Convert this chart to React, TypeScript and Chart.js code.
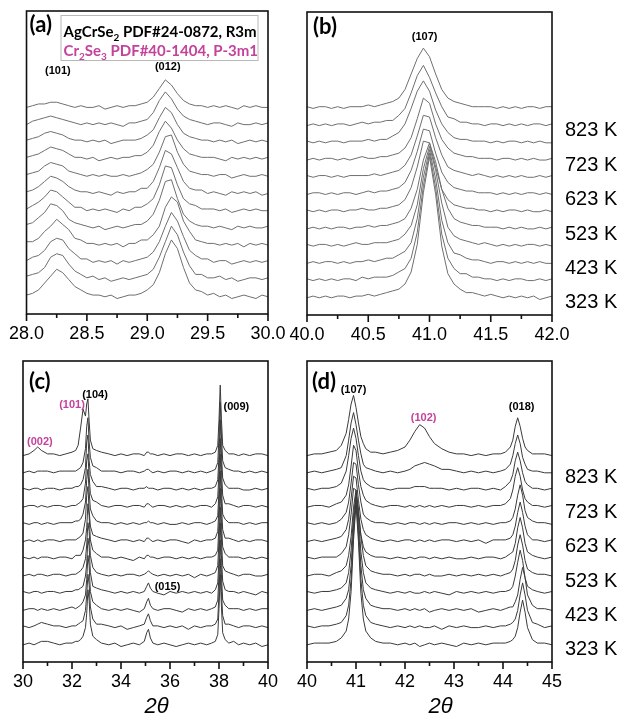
import React, { useEffect, useRef } from 'react';
import { Chart, registerables } from 'chart.js';

Chart.register(...registerables);

// ---------- x grids (2θ, degrees) ----------
const xA = [28, 28.05, 28.1, 28.15, 28.2, 28.25, 28.3, 28.35, 28.4, 28.45, 28.5, 28.55, 28.6, 28.65, 28.7, 28.75, 28.8, 28.85, 28.9, 28.95, 29, 29.05, 29.1, 29.15, 29.2, 29.25, 29.3, 29.35, 29.4, 29.45, 29.5, 29.55, 29.6, 29.65, 29.7, 29.75, 29.8, 29.85, 29.9, 29.95, 30];
const xB = [40, 40.05, 40.1, 40.15, 40.2, 40.25, 40.3, 40.35, 40.4, 40.45, 40.5, 40.55, 40.6, 40.65, 40.7, 40.75, 40.8, 40.85, 40.9, 40.95, 41, 41.05, 41.1, 41.15, 41.2, 41.25, 41.3, 41.35, 41.4, 41.45, 41.5, 41.55, 41.6, 41.65, 41.7, 41.75, 41.8, 41.85, 41.9, 41.95, 42];
const xC = [30, 30.25, 30.45, 30.6, 30.75, 31, 31.25, 31.5, 31.75, 32, 32.15, 32.25, 32.35, 32.45, 32.55, 32.6, 32.65, 32.7, 32.75, 32.85, 33, 33.2, 33.5, 33.75, 34, 34.25, 34.5, 34.75, 34.95, 35.05, 35.12, 35.2, 35.3, 35.5, 35.75, 36, 36.25, 36.5, 36.75, 37, 37.25, 37.5, 37.7, 37.85, 37.95, 38, 38.05, 38.1, 38.15, 38.25, 38.4, 38.6, 38.8, 39, 39.25, 39.5, 39.75, 40];
const xD = [40, 40.15, 40.3, 40.45, 40.6, 40.7, 40.8, 40.85, 40.9, 40.95, 41, 41.05, 41.1, 41.15, 41.2, 41.3, 41.4, 41.55, 41.7, 41.85, 42, 42.1, 42.2, 42.3, 42.4, 42.5, 42.6, 42.75, 42.9, 43.05, 43.2, 43.35, 43.5, 43.65, 43.8, 43.95, 44.05, 44.15, 44.2, 44.25, 44.3, 44.35, 44.4, 44.45, 44.5, 44.6, 44.7, 44.85, 45];

// ---------- trace names (bottom to top) ----------
const traceTemps = ['323 K', '373 K', '423 K', '473 K', '523 K', '573 K', '623 K', '673 K', '723 K', '773 K', '823 K', '873 K'];
const tempLabels = ['323 K', '423 K', '523 K', '623 K', '723 K', '823 K'];
const tempTraceIdx = [0, 2, 4, 6, 8, 10];

// ---------- panel (a): 28–30° intensities (a.u., before stacking) ----------
const a323 = [1, 2, 4, 8, 12, 16, 14, 10, 6, 4, 2, 1, 1, 0, 1, -1, 0, 1, 1, 2, 4, 7, 14, 25, 33, 28, 17, 8, 4, 3, 1, 2, 0, 1, -1, 0, 1, 0, -1, 1, 0];
const a373 = [2, 3, 4, 7, 13, 15, 14, 9, 5, 3, 1, 2, 0, 1, -1, 0, 1, 0, 1, 2, 3, 6, 13, 22, 31, 26, 16, 8, 3, 3, 1, 1, 2, 0, 1, -1, 0, 1, 1, 0, 1];
const a423 = [1, 3, 4, 7, 12, 14, 13, 8, 5, 2, 2, 0, 1, 0, 1, -1, 1, 0, 1, 2, 3, 6, 12, 21, 29, 24, 15, 7, 4, 2, 2, 0, 1, 1, -1, 0, 1, 0, 1, 0, 1];
const a473 = [2, 2, 4, 8, 11, 15, 12, 9, 4, 3, 1, 1, 0, 1, 0, 1, -1, 1, 1, 3, 3, 6, 11, 22, 28, 25, 14, 8, 3, 2, 1, 1, 0, 1, 0, 1, -1, 1, 0, 1, 0];
const a523 = [2, 3, 6, 9, 14, 13, 10, 5, 3, 2, 1, 0, 1, -1, 0, 1, 0, 1, 2, 2, 4, 8, 16, 27, 28, 17, 8, 4, 2, 1, 1, 0, 1, 0, -1, 1, 0, 1, 0, 0, 1];
const a573 = [1, 3, 5, 8, 12, 11, 8, 5, 2, 2, 0, 1, 0, 1, 0, -1, 1, 0, 2, 2, 4, 7, 15, 26, 25, 15, 7, 4, 3, 1, 1, 1, 0, 1, -1, 0, 1, 0, 1, 0, 0];
const a623 = [1, 2, 4, 7, 10, 9, 7, 4, 2, 1, 1, 0, 1, 0, -1, 1, 0, 1, 1, 3, 3, 7, 15, 25, 23, 15, 7, 3, 2, 2, 0, 1, 0, -1, 1, 0, 1, 0, 1, -1, 0];
const a673 = [1, 2, 3, 6, 8, 7, 6, 3, 2, 1, 0, 1, 0, 1, 0, 0, 1, 0, 1, 2, 4, 7, 14, 23, 24, 14, 7, 3, 2, 1, 1, 0, 1, 1, -1, 0, 1, 0, 0, 1, 0];
const a723 = [1, 2, 3, 5, 7, 6, 5, 3, 1, 1, 0, 1, -1, 0, 1, 0, 1, 1, 2, 2, 4, 8, 16, 22, 18, 11, 6, 3, 2, 1, 1, 1, 0, -1, 1, 0, 1, 0, 1, 0, 1];
const a773 = [1, 2, 3, 5, 6, 5, 4, 2, 1, 1, 0, 1, 0, 1, -1, 0, 1, 1, 1, 2, 4, 7, 14, 20, 17, 10, 5, 3, 2, 1, 1, 0, 1, 0, 1, -1, 0, 1, 0, 1, 0];
const a823 = [0, 2, 3, 4, 5, 4, 3, 2, 1, 0, 1, 0, 1, 0, 1, 0, -1, 1, 1, 2, 3, 7, 14, 19, 15, 9, 5, 3, 2, 1, 0, 1, 1, 0, -1, 1, 0, 0, 1, 0, 1];
const a873 = [0, 1, 2, 2, 3, 3, 2, 1, 0, 1, 0, 0, 1, -1, 0, 1, 0, 1, 1, 2, 3, 6, 11, 16, 13, 8, 4, 2, 1, 1, 0, 1, 0, 1, 0, -1, 1, 0, 1, 0, 0];

// ---------- panel (b): 40–42° ----------
const b323 = [0, 1, 0, 1, 0, 1, 1, 0, 1, 1, 2, 1, 2, 3, 4, 5, 8, 15, 31, 61, 82, 60, 30, 14, 8, 5, 3, 3, 2, 1, 2, 1, 0, 1, 0, 1, 0, 1, -1, 0, 1];
const b373 = [1, 0, 1, 0, 1, 0, 1, 1, 0, 2, 1, 2, 2, 2, 3, 5, 7, 13, 28, 55, 74, 54, 27, 13, 7, 4, 4, 2, 2, 1, 1, 0, 1, 0, 1, 1, 0, 0, 1, 0, 1];
const b423 = [0, 1, 0, 1, 1, 0, 1, 0, 1, 1, 2, 1, 2, 3, 3, 5, 7, 12, 26, 50, 66, 49, 25, 12, 6, 5, 3, 2, 2, 1, 0, 1, 1, 0, 1, 0, 1, 0, 1, 0, 0];
const b473 = [1, 0, 1, 1, 0, 1, 0, 1, 2, 1, 1, 2, 2, 2, 3, 4, 7, 12, 24, 45, 58, 44, 25, 11, 6, 4, 3, 2, 1, 2, 1, 0, 1, 0, 1, 0, 1, 1, 0, 1, 0];
const b523 = [0, 1, 0, 1, 0, 1, 1, 0, 1, 1, 2, 1, 2, 2, 3, 4, 6, 12, 23, 40, 50, 39, 23, 12, 6, 4, 3, 2, 2, 1, 1, 1, 0, 1, 0, 1, 0, 0, 1, 0, 1];
const b573 = [1, 0, 1, 0, 1, 1, 0, 1, 1, 2, 1, 1, 2, 2, 3, 4, 7, 14, 26, 41, 40, 26, 13, 7, 4, 3, 2, 2, 1, 1, 0, 1, 0, 1, 1, 0, 1, 0, 0, 1, 0];
const b623 = [0, 1, 1, 0, 1, 0, 1, 1, 0, 1, 2, 1, 2, 2, 3, 4, 7, 14, 25, 38, 37, 24, 13, 7, 4, 3, 2, 2, 1, 1, 1, 0, 1, 0, 1, 0, 1, 1, 0, 1, 0];
const b673 = [1, 0, 1, 1, 0, 1, 0, 1, 1, 1, 1, 2, 1, 2, 3, 4, 7, 13, 24, 36, 35, 23, 13, 6, 4, 3, 2, 1, 2, 1, 0, 1, 0, 1, 0, 1, 0, 0, 1, 0, 1];
const b723 = [0, 1, 0, 1, 1, 0, 1, 0, 1, 2, 1, 1, 2, 2, 3, 4, 7, 13, 24, 36, 33, 21, 12, 7, 4, 3, 2, 2, 1, 1, 1, 0, 1, 1, 0, 1, 0, 1, 0, 0, 1];
const b773 = [1, 0, 1, 0, 1, 1, 0, 1, 1, 1, 2, 1, 2, 2, 4, 6, 11, 20, 30, 36, 30, 19, 11, 6, 3, 2, 2, 1, 1, 1, 0, 1, 0, 1, 1, 0, 1, 0, 1, 0, 0];
const b823 = [0, 1, 0, 1, 0, 1, 1, 0, 1, 2, 1, 2, 2, 3, 3, 6, 10, 19, 29, 35, 28, 19, 11, 5, 4, 2, 2, 1, 1, 0, 1, 1, 0, 1, 0, 1, 0, 1, 1, 0, 1];
const b873 = [1, 0, 1, 1, 0, 1, 0, 1, 1, 1, 2, 1, 2, 3, 4, 6, 11, 20, 29, 35, 30, 20, 11, 6, 4, 3, 2, 1, 1, 1, 1, 0, 1, 0, 1, 0, 1, 1, 0, 1, 1];

// ---------- panel (c): 30–40° ----------
const c323 = [0, 1, 0, 1, 2, 2, 1, 0, 1, 1, 2, 2, 3, 5, 10, 18, 32, 26, 12, 5, 3, 1, 0, 1, -1, 0, 1, 0, 2, 7, 9, 4, 1, 0, 1, 0, -1, 0, 1, 0, 1, 0, 1, 2, 6, 21, 41, 22, 7, 3, 1, 2, 0, 1, 0, 1, -1, 0];
const c373 = [1, 0, 1, 2, 3, 2, 1, 1, 0, 1, 1, 2, 3, 4, 10, 19, 31, 25, 12, 5, 2, 2, 1, 0, 1, -1, 0, 1, 2, 6, 8, 4, 1, 1, 0, 1, 0, 1, -1, 1, 0, 1, 1, 2, 5, 20, 40, 21, 7, 2, 2, 1, 0, 1, 1, 0, 1, 0];
const c423 = [0, 1, 1, 0, 1, 0, 1, 0, 1, 2, 1, 2, 3, 5, 9, 18, 32, 26, 11, 5, 3, 1, 0, 1, 0, 1, 0, -1, 1, 5, 7, 3, 1, 0, 1, 1, 0, -1, 1, 0, 1, 0, 1, 2, 6, 21, 41, 21, 6, 3, 1, 1, 1, 0, 1, 0, 1, 1];
const c473 = [1, 0, 1, 1, 0, 1, 1, 0, 1, 1, 2, 2, 3, 4, 10, 17, 32, 27, 12, 4, 3, 2, 1, 0, 1, 0, 1, 0, 1, 4, 6, 3, 1, 0, -1, 1, 0, 1, 0, 1, 0, 1, 0, 2, 6, 20, 41, 22, 7, 2, 1, 1, 0, 1, 0, -1, 1, 0];
const c523 = [0, 1, 0, 1, 1, 0, 1, 1, 0, 1, 1, 2, 3, 5, 10, 18, 31, 26, 12, 5, 2, 1, 0, 1, 0, 1, 1, 0, 1, 2, 3, 2, 1, 0, 1, 0, 1, 0, 1, -1, 1, 0, 1, 2, 6, 21, 40, 22, 6, 3, 2, 1, 0, 1, 1, 0, 0, 1];
const c573 = [1, 0, 1, 0, 1, 1, 0, 1, 1, 0, 2, 2, 2, 5, 11, 18, 32, 25, 11, 5, 3, 1, 1, 0, 1, 0, -1, 1, 0, 2, 2, 1, 1, 0, 1, 1, 0, 1, 0, 1, 0, 1, 1, 2, 5, 21, 41, 21, 7, 3, 1, 1, 1, 0, 1, 0, 1, 0];
const c623 = [0, 1, 0, 1, 0, 1, 1, 0, 1, 1, 1, 2, 3, 5, 13, 27, 32, 18, 9, 4, 3, 2, 1, 0, 1, 1, 0, 1, 0, 2, 2, 1, 0, 1, 0, 1, 1, 0, -1, 1, 0, 1, 1, 2, 6, 21, 41, 22, 7, 2, 2, 1, 0, 1, 0, 1, 1, 0];
const c673 = [1, 0, 1, 1, 0, 1, 0, 1, 1, 1, 2, 2, 3, 6, 13, 26, 32, 19, 9, 5, 2, 1, 1, 0, 1, 0, 1, 0, 1, 1, 2, 1, 1, 0, 1, 0, 0, 1, 0, 1, 1, 0, 1, 2, 5, 20, 41, 21, 6, 3, 1, 1, 1, 0, 1, 0, 1, 1];
const c723 = [0, 1, 1, 0, 1, 0, 1, 1, 0, 1, 1, 2, 3, 5, 14, 27, 31, 18, 8, 4, 3, 1, 0, 1, 1, 0, 1, 1, 0, 2, 2, 1, 0, 1, 1, 0, 1, 0, 1, 0, 1, 1, 0, 2, 6, 21, 40, 22, 7, 2, 2, 1, 0, 1, 1, 0, 1, 0];
const c773 = [1, 0, 1, 1, 0, 1, 1, 0, 1, 1, 2, 2, 3, 6, 13, 28, 32, 17, 9, 5, 2, 2, 1, 0, 1, 1, 0, 1, 1, 2, 1, 1, 1, 0, 1, 1, 0, 1, 0, 1, 0, 1, 1, 2, 6, 20, 41, 21, 7, 3, 1, 1, 1, 0, 0, 1, 0, 1];
const c823 = [0, 1, 0, 1, 1, 1, 0, 1, 1, 1, 1, 2, 3, 6, 14, 27, 32, 18, 9, 4, 3, 1, 1, 1, 0, 1, 1, 0, 1, 2, 2, 1, 0, 1, 0, 1, 1, 0, 1, 0, 1, 0, 1, 2, 6, 21, 41, 22, 7, 3, 2, 1, 1, 0, 1, 0, 1, 0];
const c873 = [0, 1, 3, 5, 3, 1, 1, 0, 1, 2, 3, 6, 16, 27, 23, 30, 33, 20, 9, 4, 3, 2, 1, 0, 1, 0, 1, 1, 0, 2, 2, 1, 1, 0, 1, 0, 1, 1, 0, 1, 0, 1, 1, 2, 6, 21, 41, 21, 6, 3, 1, 1, 0, 1, 0, 1, 1, 0];

// ---------- panel (d): 40–45° ----------
const d323 = [0, 1, 1, 1, 2, 4, 8, 15, 31, 61, 82, 60, 30, 15, 8, 4, 2, 1, 1, 0, 1, 0, 1, -1, 0, 1, 0, 1, 0, -1, 1, 0, 1, 0, 1, 1, 1, 2, 3, 5, 10, 19, 26, 19, 10, 3, 1, 1, 0];
const d373 = [1, 0, 1, 1, 2, 3, 7, 13, 28, 55, 74, 54, 28, 13, 7, 3, 2, 1, 0, 1, 0, 1, 0, 1, 0, 0, 1, -1, 1, 0, 1, 0, 0, 1, 0, 1, 1, 2, 3, 5, 10, 19, 26, 19, 10, 3, 2, 0, 1];
const d423 = [0, 1, 0, 1, 2, 3, 7, 12, 26, 50, 66, 49, 26, 12, 7, 3, 2, 1, 1, 0, 1, 0, 1, 0, 1, -1, 0, 1, 0, 1, 0, 1, -1, 0, 1, 0, 1, 2, 2, 5, 9, 18, 25, 19, 9, 3, 1, 1, 0];
const d473 = [1, 0, 1, 1, 2, 3, 6, 12, 25, 45, 58, 44, 24, 12, 6, 3, 2, 1, 0, 1, 0, 1, 0, 0, 1, 0, 1, 0, -1, 1, 0, 1, 0, 1, 0, 1, 1, 2, 4, 10, 18, 25, 19, 9, 4, 2, 1, 0, 1];
const d523 = [0, 1, 1, 0, 2, 3, 6, 12, 23, 40, 50, 39, 23, 12, 6, 3, 2, 1, 1, 0, 1, 0, 1, 1, 0, 1, 0, 0, 1, 0, 1, 0, 1, 0, 1, 0, 1, 2, 4, 9, 18, 24, 18, 9, 4, 2, 1, 1, 0];
const d573 = [1, 0, 1, 1, 1, 3, 7, 14, 26, 41, 40, 26, 14, 7, 4, 2, 1, 1, 0, 1, 0, 1, 0, 1, 1, 0, 1, 0, 1, 0, 0, 1, 0, 1, 1, 0, 1, 3, 4, 9, 18, 24, 18, 9, 4, 2, 1, 0, 1];
const d623 = [0, 1, 0, 1, 2, 3, 7, 13, 25, 38, 37, 24, 13, 7, 4, 2, 1, 0, 1, 0, 1, 1, 0, 1, 0, 1, 0, 1, 1, 0, 1, 0, 1, -1, 1, 1, 1, 2, 4, 9, 17, 23, 17, 9, 4, 1, 1, 0, 1];
const d673 = [1, 0, 1, 0, 1, 3, 7, 13, 24, 36, 35, 23, 13, 6, 4, 2, 1, 1, 0, 1, 0, 1, 1, 0, 1, 0, 1, 0, 1, 1, 0, 1, 0, 1, 0, 1, 1, 2, 4, 9, 17, 23, 17, 8, 4, 2, 1, 1, 0];
const d723 = [0, 1, 1, 0, 2, 3, 7, 13, 24, 36, 33, 21, 12, 7, 4, 2, 1, 0, 1, 1, 0, 1, 0, 1, 0, 1, 0, 1, 0, 1, 1, 0, 1, 0, 1, 1, 2, 5, 10, 18, 23, 18, 10, 5, 3, 1, 1, 0, 1];
const d773 = [1, 0, 1, 1, 2, 4, 11, 20, 30, 36, 30, 20, 11, 6, 4, 2, 1, 1, 0, 1, 1, 1, 2, 2, 2, 1, 1, 1, 0, 1, 0, 1, 1, 0, 1, 0, 2, 5, 9, 17, 22, 17, 10, 5, 3, 1, 1, 0, 1];
const d823 = [0, 1, 0, 1, 2, 3, 10, 19, 29, 35, 28, 19, 11, 5, 3, 2, 1, 0, 1, 0, 1, 2, 4, 5, 6, 5, 4, 2, 2, 1, 0, 1, 0, 1, 0, 1, 2, 5, 10, 17, 22, 17, 9, 5, 2, 1, 1, 0, 0];
const d873 = [0, 1, 1, 2, 3, 6, 13, 21, 30, 35, 28, 19, 11, 7, 4, 2, 2, 1, 2, 3, 5, 9, 14, 18, 16, 11, 7, 4, 2, 1, 1, 0, 1, 0, 1, 1, 2, 5, 9, 17, 22, 17, 10, 5, 3, 1, 1, 1, 0];

const tracesA = [a323, a373, a423, a473, a523, a573, a623, a673, a723, a773, a823, a873];
const tracesB = [b323, b373, b423, b473, b523, b573, b623, b673, b723, b773, b823, b873];
const tracesC = [c323, c373, c423, c473, c523, c573, c623, c673, c723, c773, c823, c873];
const tracesD = [d323, d373, d423, d473, d523, d573, d623, d673, d723, d773, d823, d873];

// ---------- reflection labels (data coords) ----------
const MAGENTA = '#c4429c';
const peaksA = [
  { text: '(101)', x: 28.26, y: 131, color: '#000' },
  { text: '(012)', x: 29.17, y: 133.5, color: '#000' },
];
const peaksB = [{ text: '(107)', x: 40.96, y: 151.5, color: '#000' }];
const peaksC = [
  { text: '(002)', x: 30.69, y: 118, color: MAGENTA },
  { text: '(101)', x: 32.0, y: 139.5, color: MAGENTA },
  { text: '(104)', x: 32.94, y: 145.2, color: '#000' },
  { text: '(009)', x: 38.71, y: 138.3, color: '#000' },
  { text: '(015)', x: 35.9, y: 33.6, color: '#000' },
];
const peaksD = [
  { text: '(107)', x: 40.95, y: 148, color: '#000' },
  { text: '(102)', x: 42.38, y: 132, color: MAGENTA },
  { text: '(018)', x: 44.38, y: 138.3, color: '#000' },
];

const STEP = 10;
const SANS = '"Liberation Sans", Arial, Helvetica, sans-serif';
const HUM = 'Lato, "Open Sans", sans-serif';

type Peak = { text: string; x: number; y: number; color: string };
type Panel = {
  left: number; top: number; w: number; h: number;
  pad: { left: number; right: number; top: number };
  axisH: number;
  x: number[]; traces: number[][];
  xMin: number; xMax: number; major: number; minor: number; decimals: number;
  yMin: number; yMax: number;
  color: string;
  letter: string; letterDx: number; letterDy: number;
  peaks: Peak[];
  temps: boolean; legend: boolean; axisTitle: boolean;
};

const panels: Panel[] = [
  {
    left: 0, top: 0, w: 300, h: 345, pad: { left: 24, right: 32, top: 11 }, axisH: 31,
    x: xA, traces: tracesA, xMin: 28, xMax: 30, major: 0.5, minor: 0.25, decimals: 1,
    yMin: -10, yMax: 166, color: '#6f6f6f', letter: '(a)', letterDx: 3, letterDy: 14,
    peaks: peaksA, temps: false, legend: true, axisTitle: false,
  },
  {
    left: 280, top: 0, w: 342, h: 345, pad: { left: 27, right: 70, top: 12 }, axisH: 30,
    x: xB, traces: tracesB, xMin: 40, xMax: 42, major: 0.5, minor: 0.25, decimals: 1,
    yMin: -10, yMax: 166, color: '#6f6f6f', letter: '(b)', letterDx: 6, letterDy: 15,
    peaks: peaksB, temps: true, legend: false, axisTitle: false,
  },
  {
    left: 0, top: 345, w: 300, h: 373, pad: { left: 23, right: 32, top: 16 }, axisH: 56,
    x: xC, traces: tracesC, xMin: 30, xMax: 40, major: 2, minor: 1, decimals: 0,
    yMin: -10, yMax: 165, color: '#3a3a3a', letter: '(c)', letterDx: 6, letterDy: 21,
    peaks: peaksC, temps: false, legend: false, axisTitle: true,
  },
  {
    left: 280, top: 345, w: 342, h: 373, pad: { left: 27, right: 70, top: 16 }, axisH: 56,
    x: xD, traces: tracesD, xMin: 40, xMax: 45, major: 1, minor: 0.5, decimals: 0,
    yMin: -10, yMax: 165, color: '#3a3a3a', letter: '(d)', letterDx: 5, letterDy: 21,
    peaks: peaksD, temps: true, legend: false, axisTitle: true,
  },
];

function drawParts(ctx: CanvasRenderingContext2D, parts: [string, boolean][], x: number, y: number, size: number, subSize: number) {
  let cx = x;
  for (const [t, sub] of parts) {
    ctx.font = `bold ${sub ? subSize : size}px ${HUM}`;
    ctx.fillText(t, cx, sub ? y + 4 : y);
    cx += ctx.measureText(t).width;
  }
}

function makeDeco(p: Panel) {
  return {
    id: 'panelDeco',
    afterDraw(chart: any) {
      const ctx: CanvasRenderingContext2D = chart.ctx;
      const { left, right, top, bottom } = chart.chartArea;
      const xs = chart.scales.x;
      const ys = chart.scales.y;
      ctx.save();
      // frame
      ctx.strokeStyle = '#111';
      ctx.lineWidth = 1.6;
      ctx.strokeRect(left, top, right - left, bottom - top);
      // ticks
      const n = Math.round((p.xMax - p.xMin) / p.minor);
      const ratio = Math.round(p.major / p.minor);
      ctx.beginPath();
      for (let k = 0; k <= n; k++) {
        const px = xs.getPixelForValue(p.xMin + k * p.minor);
        const len = k % ratio === 0 ? 7 : 4;
        ctx.moveTo(px, bottom);
        ctx.lineTo(px, bottom + len);
      }
      ctx.stroke();
      // panel letter
      ctx.fillStyle = '#000';
      ctx.textAlign = 'left';
      ctx.textBaseline = 'middle';
      ctx.font = `bold 22px ${HUM}`;
      ctx.fillText(p.letter, left + p.letterDx, top + p.letterDy);
      // reflection labels
      ctx.textAlign = 'center';
      ctx.font = `bold 11px ${SANS}`;
      for (const pk of p.peaks) {
        ctx.fillStyle = pk.color;
        ctx.fillText(pk.text, xs.getPixelForValue(pk.x), ys.getPixelForValue(pk.y));
      }
      // temperature labels
      if (p.temps) {
        ctx.fillStyle = '#000';
        ctx.textAlign = 'left';
        ctx.font = `20px ${SANS}`;
        tempLabels.forEach((t, k) => {
          ctx.fillText(t, right + 13, ys.getPixelForValue(tempTraceIdx[k] * STEP - 3));
        });
      }
      // axis title
      if (p.axisTitle) {
        ctx.fillStyle = '#000';
        ctx.textAlign = 'center';
        ctx.font = `italic 22px ${SANS}`;
        ctx.fillText('2θ', (left + right) / 2 + 11, bottom + 45);
      }
      // phase legend
      if (p.legend) {
        ctx.fillStyle = '#fff';
        ctx.fillRect(left + 34, top + 4, 197, 45);
        ctx.strokeStyle = '#b8b8b8';
        ctx.lineWidth = 1;
        ctx.strokeRect(left + 34.5, top + 4.5, 197, 45);
        ctx.textBaseline = 'alphabetic';
        ctx.textAlign = 'left';
        ctx.fillStyle = '#000';
        drawParts(ctx, [['AgCrSe', false], ['2', true], [' PDF#24-0872, R3m', false]], left + 37, top + 26, 15, 10);
        ctx.fillStyle = MAGENTA;
        drawParts(ctx, [['Cr', false], ['2', true], ['Se', false], ['3', true], [' PDF#40-1404, P-3m1', false]], left + 37, top + 45, 15, 10);
      }
      ctx.restore();
    },
  };
}

function buildConfig(p: Panel): any {
  const datasets = p.traces.map((vals, i) => ({
    label: traceTemps[i],
    data: p.x.map((xv, j) => ({ x: xv, y: vals[j] + i * STEP })),
    borderColor: p.color,
    borderWidth: 1,
    pointRadius: 0,
    fill: false,
    tension: 0,
  }));
  return {
    type: 'line',
    data: { datasets },
    options: {
      animation: false,
      responsive: false,
      maintainAspectRatio: false,
      devicePixelRatio: 1,
      events: [],
      layout: { padding: { left: p.pad.left, right: p.pad.right, top: p.pad.top, bottom: 0 } },
      plugins: { legend: { display: false }, tooltip: { enabled: false }, title: { display: false } },
      scales: {
        x: {
          type: 'linear',
          min: p.xMin,
          max: p.xMax,
          afterFit: (s: any) => { s.height = p.axisH; },
          grid: { display: false, drawTicks: false },
          border: { display: false },
          ticks: {
            stepSize: p.major,
            autoSkip: false,
            maxRotation: 0,
            padding: 9,
            color: '#000',
            font: { family: SANS, size: 18 },
            callback: (v: any) => Number(v).toFixed(p.decimals),
          },
        },
        y: { display: false, min: p.yMin, max: p.yMax },
      },
    },
    plugins: [makeDeco(p)],
  };
}

export default function App() {
  const r0 = useRef<HTMLCanvasElement>(null);
  const r1 = useRef<HTMLCanvasElement>(null);
  const r2 = useRef<HTMLCanvasElement>(null);
  const r3 = useRef<HTMLCanvasElement>(null);
  const refs = [r0, r1, r2, r3];

  useEffect(() => {
    const charts = panels.map((p, i) => new Chart(refs[i].current as HTMLCanvasElement, buildConfig(p)));
    return () => charts.forEach((c) => c.destroy());
  }, []);

  return (
    <div style={{ position: 'absolute', left: 0, top: 0, width: 622, height: 718, background: '#fff', overflow: 'hidden' }}>
      {panels.map((p, i) => (
        <canvas
          key={i}
          ref={refs[i]}
          width={p.w}
          height={p.h}
          style={{ position: 'absolute', left: p.left, top: p.top, width: p.w, height: p.h }}
        />
      ))}
    </div>
  );
}
